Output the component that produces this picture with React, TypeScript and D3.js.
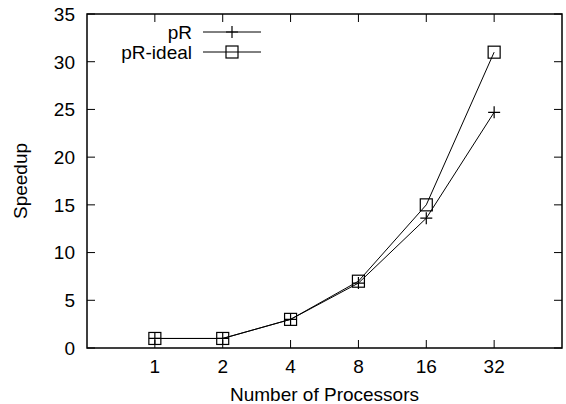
import React, { useEffect, useRef } from 'react';
import * as d3 from 'd3';

const processors = ['1', '2', '4', '8', '16', '32'];
const pR = [1, 1, 3, 6.8, 13.6, 24.7];
const pRideal = [1, 1, 3, 7, 15, 31];
const yTicks = [0, 5, 10, 15, 20, 25, 30, 35];

const W = 566;
const H = 404;
const m = { left: 87, right: 4, top: 14, bottom: 56 };

export default function App() {
  const ref = useRef<SVGSVGElement>(null);

  useEffect(() => {
    const svg = d3.select(ref.current);
    svg.selectAll('*').remove();

    const x = d3.scaleLinear().domain([0, processors.length + 1]).range([m.left, W - m.right]);
    const y = d3.scaleLinear().domain([0, 35]).range([H - m.bottom, m.top]);
    const font = 'Liberation Sans, Arial, sans-serif';
    const fs = 19;
    const tl = 8;

    // ticks inward on all sides
    const xIdx = processors.map((_, i) => i + 1);
    const g = svg.append('g').attr('stroke', '#000').attr('stroke-width', 1);
    xIdx.forEach(i => {
      g.append('line').attr('x1', x(i)).attr('x2', x(i)).attr('y1', y(0)).attr('y2', y(0) - tl);
      g.append('line').attr('x1', x(i)).attr('x2', x(i)).attr('y1', y(35)).attr('y2', y(35) + tl);
    });
    yTicks.forEach(v => {
      g.append('line').attr('x1', m.left).attr('x2', m.left + tl).attr('y1', y(v)).attr('y2', y(v));
      g.append('line').attr('x1', W - m.right).attr('x2', W - m.right - tl).attr('y1', y(v)).attr('y2', y(v));
    });

    svg.append('rect')
      .attr('x', m.left).attr('y', m.top)
      .attr('width', W - m.right - m.left).attr('height', H - m.bottom - m.top)
      .attr('fill', 'none').attr('stroke', '#000').attr('stroke-width', 1.5);

    // tick labels
    svg.append('g').selectAll('text').data(yTicks).join('text')
      .attr('x', m.left - 12).attr('y', d => y(d)).attr('dy', '0.36em')
      .attr('text-anchor', 'end').attr('font-family', font).attr('font-size', fs)
      .text(d => d);
    svg.append('g').selectAll('text').data(processors).join('text')
      .attr('x', (_, i) => x(i + 1)).attr('y', y(0) + 25)
      .attr('text-anchor', 'middle').attr('font-family', font).attr('font-size', fs)
      .text(d => d);

    svg.append('text')
      .attr('x', (m.left + W - m.right) / 2).attr('y', H - 3)
      .attr('text-anchor', 'middle').attr('font-family', font).attr('font-size', fs)
      .text('Number of Processors');
    svg.append('text')
      .attr('transform', `translate(27,${(m.top + H - m.bottom) / 2}) rotate(-90)`)
      .attr('text-anchor', 'middle').attr('font-family', font).attr('font-size', fs)
      .text('Speedup');

    const line = d3.line<number>().x((_, i) => x(i + 1)).y(d => y(d));
    const plus = (sel: d3.Selection<SVGGElement, unknown, null, undefined>, cx: number, cy: number) => {
      sel.append('path').attr('d', `M${cx - 6},${cy}H${cx + 6}M${cx},${cy - 6}V${cy + 6}`)
        .attr('stroke', '#000').attr('stroke-width', 1.2).attr('fill', 'none');
    };
    const square = (sel: d3.Selection<SVGGElement, unknown, null, undefined>, cx: number, cy: number) => {
      sel.append('rect').attr('x', cx - 6).attr('y', cy - 6).attr('width', 12).attr('height', 12)
        .attr('stroke', '#000').attr('stroke-width', 1.2).attr('fill', 'none');
    };

    const s1 = svg.append('g');
    s1.append('path').attr('d', line(pR)).attr('fill', 'none').attr('stroke', '#000').attr('stroke-width', 1);
    pR.forEach((d, i) => plus(s1 as any, x(i + 1), y(d)));

    const s2 = svg.append('g');
    s2.append('path').attr('d', line(pRideal)).attr('fill', 'none').attr('stroke', '#000').attr('stroke-width', 1);
    pRideal.forEach((d, i) => square(s2 as any, x(i + 1), y(d)));

    // legend
    const lg = svg.append('g');
    const entries = [{ name: 'pR', mark: plus }, { name: 'pR-ideal', mark: square }];
    entries.forEach((e, i) => {
      const ly = 32 + i * 20;
      lg.append('text').attr('x', 192).attr('y', ly).attr('dy', '0.36em')
        .attr('text-anchor', 'end').attr('font-family', font).attr('font-size', fs).text(e.name);
      lg.append('line').attr('x1', 203).attr('x2', 261).attr('y1', ly).attr('y2', ly)
        .attr('stroke', '#000').attr('stroke-width', 1);
      e.mark(lg as any, 232, ly);
    });
  }, []);

  return (
    <div>
      <svg ref={ref} width={W} height={H} style={{ position: 'absolute', left: 0, top: 0 }} />
    </div>
  );
}
